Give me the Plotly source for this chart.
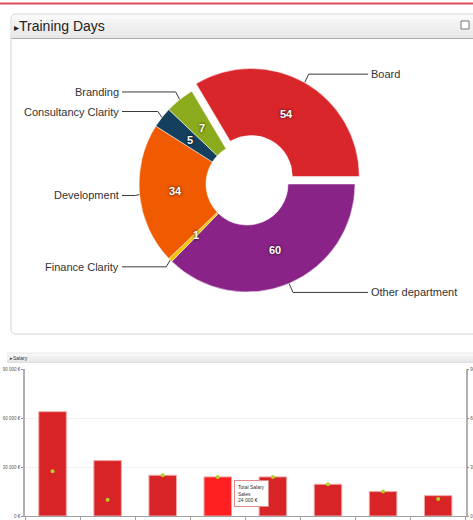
import math
import plotly.graph_objects as go

# ---------------- data ----------------
# Training days donut (listed clockwise, starting at 3 o'clock)
donut_labels = ["Other department", "Finance Clarity", "Development",
                "Consultancy Clarity", "Branding", "Board"]
donut_values = [60, 1, 34, 5, 7, 54]
donut_colors = ["#8a2387", "#f0c400", "#f05a00", "#143f5d", "#8bab1d", "#d9262b"]
donut_pull = [0, 0, 0, 0, 0, 0.08]

# Salary chart
salary_categories = ["Dept 1", "Dept 2", "Dept 3", "Sales",
                     "Dept 5", "Dept 6", "Dept 7", "Dept 8"]
salary_total = [64000, 34000, 25000, 24000, 24000, 19500, 15000, 12500]
salary_points = [27500, 10000, 25000, 24000, 24000, 19500, 15000, 10500]
salary_ticks = [0, 30000, 60000, 90000]
highlight_index = 3

# ---------------- geometry helpers ----------------
W, H = 473, 520
CX, CY, R = 247, 184, 108
HOLE = 0.38


def PX(x):
    return x / W


def PY(y):
    return 1 - y / H


def euro(v):
    return (f"{v:,}".replace(",", " ")) + " €"


fig = go.Figure()

# donut
maxpull = max(donut_pull)
half = R * (1 + maxpull)
fig.add_trace(go.Pie(
    labels=donut_labels, values=donut_values, sort=False,
    direction="clockwise", rotation=90, hole=HOLE,
    pull=donut_pull, textinfo="none", hoverinfo="skip",
    marker=dict(colors=donut_colors, line=dict(color="white", width=0.5)),
    domain=dict(x=[PX(CX - half), PX(CX + half)],
                y=[PY(CY + half), PY(CY - half)]),
    showlegend=False,
))

# connectors and labels computed from slice angles
total = sum(donut_values)
cum = 0
lx, ly = [], []
annotations = []
for lab, val, pull in zip(donut_labels, donut_values, donut_pull):
    mid = math.radians(90 + (cum + val / 2) / total * 360)
    cum += val
    s, c = math.sin(mid), math.cos(mid)
    side = 1 if s > 0 else -1
    ex, ey = CX + R * (1 + pull) * s, CY - R * (1 + pull) * c
    oy = CY - R * pull * c
    lyy = oy - R * 1.09 * c
    bx = ex + side * 4
    endx = 368 if side > 0 else 122
    lx += [ex, bx, endx, None]
    ly += [ey, lyy, lyy, None]
    annotations.append(dict(
        x=PX(endx + side * 1), y=PY(lyy), xref="paper", yref="paper",
        text=lab, showarrow=False, xanchor="left" if side > 0 else "right",
        yanchor="middle", font=dict(size=11, color="#333333",
                                    family="Liberation Sans, Arial")))
    vx = CX + R * (0.665 + pull) * s
    vy = CY - R * (0.665 + pull) * c
    annotations.append(dict(
        x=PX(vx), y=PY(vy), xref="paper", yref="paper", text=f"<b>{val}</b>",
        showarrow=False, xanchor="center", yanchor="middle",
        font=dict(size=11, color="white", family="Liberation Sans, Arial",
                  shadow="0px 0px 3px rgba(0,0,0,0.9)")))

fig.add_trace(go.Scatter(x=lx, y=ly, mode="lines", xaxis="x", yaxis="y",
                         line=dict(color="#3a3a3a", width=1),
                         hoverinfo="skip", showlegend=False, cliponaxis=False))

# salary bars
bar_colors = ["#ff2121" if i == highlight_index else "#d82427"
              for i in range(len(salary_total))]
fig.add_trace(go.Bar(x=salary_categories, y=salary_total, xaxis="x2", yaxis="y2",
                     name="Total Salary",
                     marker=dict(color=bar_colors,
                                 line=dict(color="#f2a8a8", width=1)),
                     showlegend=False, hoverinfo="skip"))
fig.add_trace(go.Scatter(x=salary_categories, y=salary_points, xaxis="x2", yaxis="y3",
                         mode="markers",
                         marker=dict(color="#b4d12a", size=4, symbol="circle"),
                         showlegend=False, hoverinfo="skip"))

# tooltip
annotations.append(dict(
    x=PX(251), y=PY(493), xref="paper", yref="paper",
    text=f"{'Total Salary'}<br>{salary_categories[highlight_index]}<br>"
         f"{euro(salary_total[highlight_index])}",
    showarrow=False, align="left", xanchor="center", yanchor="middle",
    bgcolor="white", bordercolor="#e58a8a", borderwidth=1, borderpad=3,
    font=dict(size=5, color="#333333", family="Liberation Sans, Arial")))

# panel titles
annotations.append(dict(x=PX(12), y=PY(26), xref="paper", yref="paper",
                        text="<span style='font-size:10px'>▸</span>Training Days",
                        showarrow=False, xanchor="left", yanchor="middle",
                        font=dict(size=14, color="#222222",
                                  family="Liberation Sans, Arial")))
annotations.append(dict(x=PX(8), y=PY(357.5), xref="paper", yref="paper",
                        text="▸Salary", showarrow=False, xanchor="left",
                        yanchor="middle",
                        font=dict(size=5, color="#333333",
                                  family="Liberation Sans, Arial")))

# ---------------- decoration shapes ----------------
shapes = []


def rect(x0, y0, x1, y1, fill, line=None, width=0, layer="below"):
    shapes.append(dict(type="rect", xref="paper", yref="paper",
                       x0=PX(x0), x1=PX(x1), y0=PY(y1), y1=PY(y0),
                       fillcolor=fill, line=dict(color=line or fill, width=width),
                       layer=layer))


def hline(x0, x1, y, color, width=1):
    shapes.append(dict(type="line", xref="paper", yref="paper",
                       x0=PX(x0), x1=PX(x1), y0=PY(y), y1=PY(y),
                       line=dict(color=color, width=width), layer="below"))


# top red rule
hline(0, W, 3.5, "#dc4a5c", 2)

# training days panel (rounded left corners)
r = 5
x0, y0, x1, y1 = 11, 14, 480, 334
path = (f"M {PX(x0 + r)},{PY(y0)} L {PX(x1)},{PY(y0)} L {PX(x1)},{PY(y1)} "
        f"L {PX(x0 + r)},{PY(y1)} Q {PX(x0)},{PY(y1)} {PX(x0)},{PY(y1 - r)} "
        f"L {PX(x0)},{PY(y0 + r)} Q {PX(x0)},{PY(y0)} {PX(x0 + r)},{PY(y0)} Z")
shapes.append(dict(type="path", xref="paper", yref="paper", path=path,
                   fillcolor="white", line=dict(color="#d4d4d4", width=1),
                   layer="below"))
# header gradient
bands = ["#f9f9f9", "#f5f5f5", "#f1f1f1", "#eeeeee", "#ebebeb", "#e8e8e8"]
bh = (38 - 15) / len(bands)
for i, col in enumerate(bands):
    rect(11.6 if i > 0 else 13, 15 + i * bh, 480, 15 + (i + 1) * bh + 0.3, col)
hline(11.5, 480, 38.5, "#a9a9a9", 1)
# square icon
rect(461, 21, 469, 29, "white", "#777777", 1, layer="above")

# salary header
s_bands = ["#f7f7f7", "#f0f0f0", "#ebebeb"]
sb = 9 / len(s_bands)
for i, col in enumerate(s_bands):
    rect(7, 353 + i * sb, 480, 353 + (i + 1) * sb + 0.2, col)
hline(7, 480, 362.3, "#cfcfcf", 0.8)
hline(7, 480, 353, "#e2e2e2", 0.8)

# ---------------- layout ----------------
tick_text = [euro(v) for v in salary_ticks]
fig.update_layout(
    width=W, height=H, margin=dict(l=0, r=0, t=0, b=0, autoexpand=False),
    paper_bgcolor="white", plot_bgcolor="rgba(0,0,0,0)",
    showlegend=False, bargap=0.5,
    xaxis=dict(domain=[0, 1], range=[0, W], visible=False, fixedrange=True,
               automargin=False),
    yaxis=dict(domain=[0, 1], range=[H, 0], visible=False, fixedrange=True,
               automargin=False),
    xaxis2=dict(domain=[PX(25), PX(465.7)], anchor="y2", type="category",
                showline=True, linecolor="#a0a0a0", linewidth=1,
                ticks="outside", ticklen=3, tickcolor="#a0a0a0",
                tickson="boundaries", showticklabels=False, showgrid=False,
                automargin=False),
    yaxis2=dict(domain=[PY(516), PY(369.3)], anchor="x2", range=[0, 90000],
                tickvals=salary_ticks, ticktext=tick_text,
                showline=True, linecolor="#b0b0b0", linewidth=1.5,
                ticks="outside", ticklen=2, tickcolor="#909090",
                tickfont=dict(size=4.5, color="#555555",
                              family="Liberation Sans, Arial"),
                showgrid=True, gridcolor="#f1f1f1", gridwidth=1, zeroline=False,
                automargin=False),
    yaxis3=dict(overlaying="y2", side="right", anchor="x2", range=[0, 90000],
                tickvals=salary_ticks, ticktext=tick_text,
                showline=True, linecolor="#b0b0b0", linewidth=1.5,
                ticks="outside", ticklen=2, tickcolor="#909090",
                tickfont=dict(size=4.5, color="#555555",
                              family="Liberation Sans, Arial"),
                showgrid=False, zeroline=False, automargin=False),
    annotations=annotations, shapes=shapes,
)

fig.write_html("out.html", config={"displayModeBar": False},
               post_script="document.body.style.margin='0';"
                           "document.body.style.overflow='hidden';")
